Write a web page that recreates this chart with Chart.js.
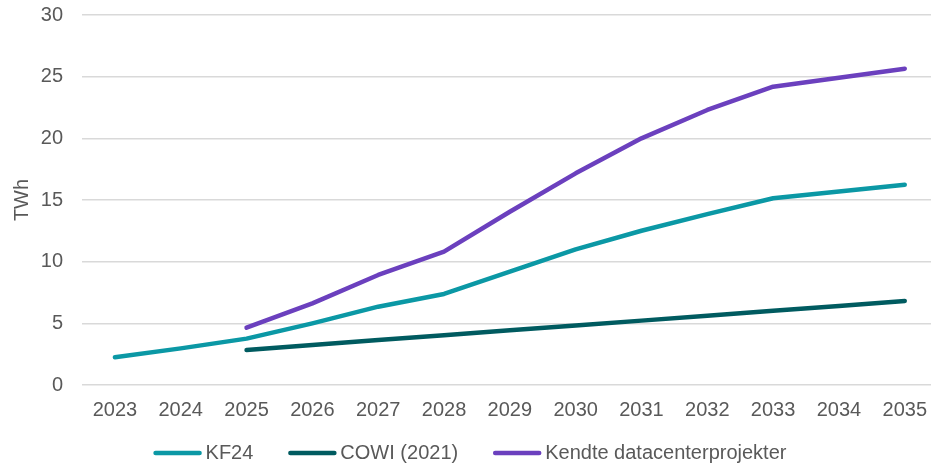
<!DOCTYPE html>
<html>
<head>
<meta charset="utf-8">
<script src="https://cdn.jsdelivr.net/npm/chart.js@4/dist/chart.umd.min.js"></script>
<style>
  html, body { margin: 0; padding: 0; background: #ffffff; overflow: hidden; }
  #wrap { position: relative; width: 940px; height: 468px; }
</style>
</head>
<body>
<div id="wrap"><canvas id="chart"></canvas></div>
<script>
// Years on the category axis
const years = ['2023', '2024', '2025', '2026', '2027', '2028', '2029', '2030', '2031', '2032', '2033', '2034', '2035'];

// Electricity use of data centres, TWh
const kf24 = [2.25, 2.97, 3.76, 5.0, 6.35, 7.38, 9.19, 11.0, 12.51, 13.86, 15.14, 15.68, 16.24];
const cowi2021 = [null, null, 2.84, 3.24, 3.64, 4.03, 4.43, 4.83, 5.22, 5.62, 6.02, 6.41, 6.81];
const kendteProjekter = [null, null, 4.65, 6.62, 8.92, 10.81, 14.05, 17.16, 20.0, 22.3, 24.19, 24.92, 25.65];

// Y axis ticks
const yMin = 0;
const yMax = 30;
const yStep = 5;

const seriesNames = ['KF24', 'COWI (2021)', 'Kendte datacenterprojekter'];
const seriesColors = ['#0b98a5', '#005b60', '#6b40be'];

const textColor = '#595959';
const fontFamily = 'Arial, "Liberation Sans", Helvetica, sans-serif';

// Legend drawn below the plot: short line swatch followed by the label
const bottomLegend = {
  id: 'bottomLegend',
  afterDraw(chart) {
    const ctx = chart.ctx;
    const y = 453;
    const swatch = 48, gapText = 4, gapItem = 35;
    ctx.save();
    ctx.font = '20px ' + fontFamily;
    ctx.textBaseline = 'middle';
    ctx.textAlign = 'left';
    const items = chart.data.datasets.map(ds => ({
      label: ds.label, color: ds.borderColor,
      w: swatch + gapText + ctx.measureText(ds.label).width
    }));
    const total = items.reduce((s, it) => s + it.w, 0) + gapItem * (items.length - 1);
    let x = chart.width / 2 - total / 2;
    items.forEach(it => {
      ctx.strokeStyle = it.color;
      ctx.lineWidth = 4.5;
      ctx.lineCap = 'round';
      ctx.beginPath();
      ctx.moveTo(x + 2, y);
      ctx.lineTo(x + swatch - 2, y);
      ctx.stroke();
      ctx.fillStyle = textColor;
      ctx.fillText(it.label, x + swatch + gapText, y + 0.5);
      x += it.w + gapItem;
    });
    ctx.restore();
  }
};

const seriesData = [kf24, cowi2021, kendteProjekter];

new Chart(document.getElementById('chart'), {
  type: 'line',
  data: {
    labels: years,
    datasets: seriesData.map((d, i) => ({
      label: seriesNames[i],
      data: d,
      borderColor: seriesColors[i],
      backgroundColor: seriesColors[i],
      borderWidth: 4.5,
      borderCapStyle: 'round',
      borderJoinStyle: 'round',
      pointRadius: 0,
      pointHoverRadius: 0,
      tension: 0,
      fill: false,
      spanGaps: false
    }))
  },
  options: {
    responsive: true,
    maintainAspectRatio: false,
    animation: false,
    layout: { padding: { top: 15, bottom: 43, left: 0, right: 0 } },
    plugins: {
      legend: { display: false },
      tooltip: { enabled: false }
    },
    scales: {
      x: {
        offset: true,
        grid: { display: false, drawTicks: false },
        border: { display: false },
        ticks: {
          color: textColor,
          font: { size: 20, family: fontFamily },
          padding: 13,
          maxRotation: 0,
          autoSkip: false
        },
        afterFit(scale) { scale.height = 40; }
      },
      y: {
        min: yMin,
        max: yMax,
        grid: { color: '#d9d9d9', lineWidth: 1.5, drawTicks: false },
        border: { display: false },
        ticks: {
          stepSize: yStep,
          color: textColor,
          font: { size: 20, family: fontFamily },
          padding: 19
        },
        title: {
          display: true,
          text: 'TWh',
          color: textColor,
          font: { size: 20, family: fontFamily },
          padding: { top: 10, bottom: 0 }
        },
        afterFit(scale) {
          scale.width = 82;
          scale.paddingTop = 0;
          scale.paddingBottom = 0;
        }
      }
    }
  },
  plugins: [bottomLegend]
});
</script>
</body>
</html>
